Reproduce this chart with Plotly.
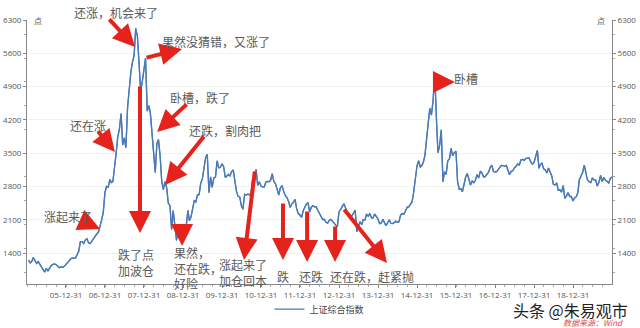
import calendar
import plotly.graph_objects as go

# ---- data: Shanghai Composite, values read at mid-month and month-end ----
v2005 = [1250, 1191, 1230, 1306, 1240, 1181, 1220, 1159, 1100, 1060, 1000, 1080,
         1020, 1083, 1140, 1162, 1170, 1155, 1130, 1092, 1110, 1099, 1120, 1161]
v2006 = [1210, 1258, 1280, 1299, 1290, 1298, 1380, 1440, 1640, 1641, 1600, 1672,
         1700, 1612, 1600, 1658, 1720, 1752, 1800, 1837, 1950, 2099, 2250, 2675]
v2007 = [2800, 2786, 2950, 2881, 2900, 3183, 3500, 3841, 4000, 4335, 3670, 3820,
         3615, 4471, 4870, 5218, 5420, 5552, 6124, 5955, 5400, 4803, 5000, 5262]
v2008 = [5497, 4383, 4500, 4348, 3950, 3473, 3094, 3693, 3786, 3433, 2900, 2736,
         2900, 2775, 2450, 2397, 1895, 2293, 2000, 1664, 1900, 1871, 2000, 1821]
v2009 = [1900, 1991, 2300, 2082, 2150, 2373, 2500, 2477, 2620, 2633, 2870, 2959,
         3180, 3412, 3478, 2668, 3000, 2779, 2980, 2996, 3338, 3195, 3200, 3277]
v2010 = [3220, 2989, 3020, 3051, 3020, 3110, 3150, 2871, 2700, 2592, 2580, 2398,
         2319, 2638, 2620, 2639, 2620, 2656, 2970, 2979, 3159, 2820, 2900, 2808]
v2011 = [2790, 2791, 2900, 2905, 2900, 2928, 3067, 2911, 2860, 2743, 2620, 2762,
         2820, 2701, 2610, 2568, 2490, 2359, 2430, 2468, 2530, 2333, 2230, 2199]
v2012 = [2148, 2293, 2360, 2428, 2460, 2263, 2360, 2397, 2370, 2373, 2300, 2225,
         2180, 2103, 2110, 2047, 2030, 2086, 2110, 2069, 2010, 1980, 1949, 2269]
v2013 = [2310, 2385, 2434, 2360, 2270, 2237, 2190, 2178, 2230, 2301, 1849, 1979,
         2060, 1994, 2100, 2098, 2220, 2175, 2230, 2141, 2140, 2220, 2160, 2116]
v2014 = [2020, 2033, 2110, 2056, 1974, 2033, 2100, 2026, 2020, 2039, 2070, 2048,
         2060, 2202, 2230, 2217, 2300, 2364, 2370, 2420, 2480, 2683, 2950, 3235]
v2015 = [3340, 3210, 3240, 3310, 3450, 3748, 4130, 4442, 4300, 4612, 5178, 4277,
         3507, 3664, 3990, 2900, 3110, 3053, 3340, 3383, 3600, 3445, 3510, 3539]
v2016 = [2900, 2738, 2750, 2688, 2860, 3004, 3070, 2938, 2830, 2917, 2880, 2930,
         3050, 2979, 3120, 3085, 3000, 3005, 3060, 3100, 3200, 3250, 3120, 3104]
v2017 = [3110, 3159, 3210, 3242, 3240, 3223, 3240, 3155, 3050, 3117, 3130, 3192,
         3220, 3273, 3250, 3361, 3370, 3349, 3390, 3393, 3400, 3317, 3270, 3307]
v2018 = [3430, 3560, 3180, 3259, 3290, 3169, 3150, 3082, 3190, 3095, 3020, 2847,
         2830, 2876, 2720, 2725, 2680, 2821, 2550, 2603, 2670, 2588, 2590, 2494]
v2019 = [2560, 2585, 2680, 2941, 3020, 3091, 3250, 3078, 2940, 2899, 2880, 2979,
         2940, 2933, 2810, 2886, 3030, 2905, 2990, 2929, 2910, 2872, 2970, 3000]

years = list(range(2005, 2020))
yearly = [v2005, v2006, v2007, v2008, v2009, v2010, v2011, v2012, v2013,
          v2014, v2015, v2016, v2017, v2018, v2019]

y_ticks = [1400, 2100, 2800, 3500, 4200, 4900, 5600, 6300]
x_ticks = [f"{y}-12-31" for y in range(2005, 2019)]
series_name = "上证综合指数"

# callout texts
callouts = ["还涨，机会来了", "果然没猜错，又涨了", "卧槽，跌了", "还在涨", "还跌，割肉把",
            "涨起来了", "跌了点<br>加波仓", "果然，<br>还在跌，<br>好险",
            "涨起来了<br>加仓回本", "跌", "还跌", "还在跌，赶紧抛", "卧槽"]

dates, vals = [], []
for y, arr in zip(years, yearly):
    for m in range(1, 13):
        dates.append(f"{y}-{m:02d}-15")
        dates.append(f"{y}-{m:02d}-{calendar.monthrange(y, m)[1]:02d}")
    vals.extend(arr)

LINE = "#4a7bb7"
RED = "#e5231c"
TXT = "#5a5a5a"
CJK = "Noto Sans CJK SC"

fig = go.Figure()
fig.add_trace(go.Scatter(x=dates, y=vals, mode="lines", name=series_name,
                         line=dict(color=LINE, width=1.3)))
fig.add_trace(go.Scatter(x=dates, y=vals, mode="lines", yaxis="y2", showlegend=False,
                         hoverinfo="skip", line=dict(color=LINE, width=1.3)))

yr = [749, 6300]
axis_common = dict(range=yr, tickvals=y_ticks, ticks="outside", ticklen=3,
                   tickcolor="#888", showline=True, linecolor="#888", linewidth=1,
                   tickfont=dict(size=8, color="#555", family="Open Sans"),
                   minor=dict(ticks="outside", ticklen=2, tickcolor="#aaa", nticks=5),
                   zeroline=False, automargin=False)

fig.update_layout(
    width=640, height=328,
    margin=dict(l=27, r=28, t=20, b=44, autoexpand=False),
    paper_bgcolor="white", plot_bgcolor="white",
    font=dict(family=CJK, color=TXT),
    xaxis=dict(type="date", range=["2004-12-31", "2019-12-31"], tickvals=x_ticks,
               tickformat="%y-%m-%d", ticks="outside", ticklen=3, tickcolor="#888",
               showline=True, linecolor="#888", showgrid=False, automargin=False,
               tickfont=dict(size=8, color="#555", family="Open Sans"),
               minor=dict(ticks="outside", ticklen=2, tickcolor="#aaa", dtick="M3")),
    yaxis=dict(**axis_common, showgrid=True, gridcolor="#f1f1f1", side="left"),
    yaxis2=dict(**axis_common, showgrid=False, overlaying="y", side="right"),
    legend=dict(orientation="h", x=0.5, xanchor="center", y=-0.095, yanchor="middle",
                bgcolor="rgba(0,0,0,0)",
                font=dict(size=9, color="#444", family=CJK), itemwidth=30),
    showlegend=True,
)

# red arrows: head at data point, tail as pixel offset
arrows = [
    ("2007-10-08", 5733, -27, -29),
    ("2008-12-22", 5691, -37, 9),
    ("2008-05-02", 3946, 31, -29),
    ("2007-04-03", 3525, -18, -22),
    ("2008-07-16", 2831, 40, -50),
    ("2006-11-15", 1906, -20, -9),
    ("2007-11-24", 1822, 0, -148),
    ("2008-12-22", 1548, 0, -19),
    ("2010-07-25", 1254, 11, -90),
    ("2011-07-25", 1254, 0, -58),
    ("2012-03-07", 1212, 0, -52),
    ("2012-11-24", 1212, 0, -37),
    ("2014-03-25", 1191, -44, -55),
    ("2015-12-21", 4997, -22, 0),
]
for x, y, dx, dy in arrows:
    fig.add_annotation(x=x, y=y, xref="x", yref="y", ax=dx, ay=dy, text="",
                       showarrow=True, arrowhead=2, arrowsize=1.1, arrowwidth=4,
                       arrowcolor=RED, standoff=0, startstandoff=0)

# callout texts (paper positions)
pos = [
    (0.152, 1.027, "center"),
    (0.227, 0.917, "left"),
    (0.241, 0.708, "left"),
    (0.070, 0.602, "left"),
    (0.274, 0.583, "left"),
    (0.026, 0.254, "left"),
    (0.186, 0.083, "center"),
    (0.248, 0.061, "left"),
    (0.369, 0.042, "center"),
    (0.438, 0.027, "center"),
    (0.485, 0.027, "center"),
    (0.515, 0.027, "left"),
    (0.726, 0.780, "left"),
]
for (px, py, anc), txt in zip(pos, callouts):
    fig.add_annotation(x=px, y=py, xref="paper", yref="paper", text=txt,
                       showarrow=False, xanchor=anc, yanchor="middle", align=anc,
                       font=dict(size=12, color=TXT, family=CJK))

# unit labels
fig.add_annotation(x=0.008, y=1.0, xref="paper", yref="paper", text="点", showarrow=False,
                   xanchor="left", yanchor="middle", font=dict(size=8, color="#555"))
fig.add_annotation(x=0.992, y=1.0, xref="paper", yref="paper", text="点", showarrow=False,
                   xanchor="right", yanchor="middle", font=dict(size=8, color="#555"))

# watermark & source
fig.add_annotation(x=1.031, y=-0.098, xref="paper", yref="paper", text="头条 @朱易观市",
                   showarrow=False, xanchor="right", yanchor="middle",
                   font=dict(size=16, color="#222", family=CJK))
fig.add_annotation(x=1.022, y=-0.145, xref="paper", yref="paper",
                   text="<i>数据来源：Wind</i>", showarrow=False, xanchor="right",
                   yanchor="middle", font=dict(size=8, color="#e0474c", family=CJK))

fig.write_html("out.html")
